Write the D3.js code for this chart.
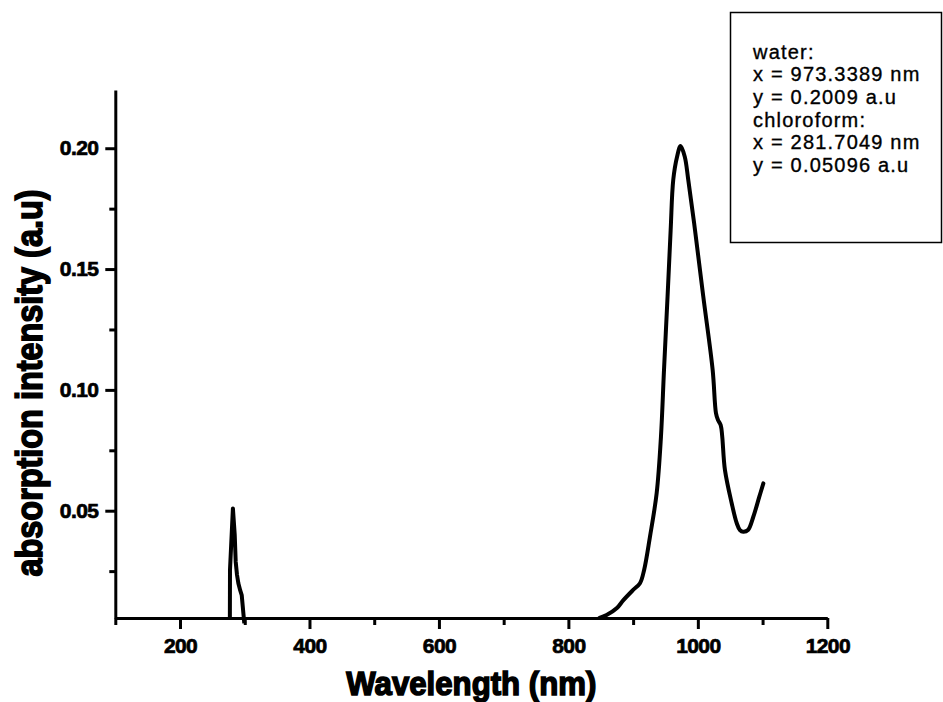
<!DOCTYPE html>
<html>
<head>
<meta charset="utf-8">
<script src="https://cdn.jsdelivr.net/npm/d3@7"></script>
<style>
  html, body { margin: 0; padding: 0; background: #fff; }
  svg { display: block; }
</style>
</head>
<body>
<svg id="chart" width="943" height="702"></svg>
<script>
// ---------------- data ----------------
const waterWavelength = [848, 859, 875, 885, 900, 910.6, 917, 926, 936.4, 943, 947.7, 953.2, 958, 962, 967.9, 973.34,
  979.8, 985.2, 995.6, 1008.4, 1022.9, 1028, 1031.1, 1035.3, 1041.9, 1052.3, 1060, 1065, 1070.2, 1077.5, 1085.7, 1095, 1101.2];
const waterAbsorbance = [0.0056, 0.0068, 0.0097, 0.0130, 0.0172, 0.0200, 0.0255, 0.0392, 0.0573, 0.0806, 0.1082, 0.1386, 0.1662, 0.1869, 0.1965, 0.2009,
  0.1965, 0.1869, 0.1662, 0.1386, 0.1082, 0.0904, 0.0875, 0.0854, 0.0668, 0.0531, 0.0449, 0.0420, 0.0413, 0.0420, 0.0475, 0.0558, 0.0613];

const chloroformWavelength = [277.0, 277.2, 281.7, 284.5, 286.0, 288.0, 290.1, 293.0, 295.3, 299.3];
const chloroformAbsorbance = [0.0050, 0.0255, 0.05096, 0.0400, 0.0289, 0.0235, 0.0200, 0.0170, 0.0151, 0.0034];

const xMajorTicks = [200, 400, 600, 800, 1000, 1200];
const xMinorTicks = [100, 300, 500, 700, 900, 1100];
const yMajorTicks = [0.05, 0.10, 0.15, 0.20];
const yMinorTicks = [0.025, 0.075, 0.125, 0.175];
const xDomain = [100, 1200];
const yDomain = [0.0056, 0.2241];

const xTitle = "Wavelength (nm)";
const yTitle = "absorption intensity (a.u)";
const legendLines = ["water:", "x = 973.3389 nm", "y = 0.2009 a.u", "chloroform:", "x = 281.7049 nm", "y = 0.05096 a.u"];

// ---------------- drawing ----------------
const svg = d3.select("#chart");
const x = d3.scaleLinear().domain(xDomain).range([115.3, 827.3]);
const y = d3.scaleLinear().domain(yDomain).range([618, 90]);

const tickFont = "'Liberation Sans', Arial, sans-serif";

function styleLabels(sel) {
  sel.attr("font-family", tickFont).attr("font-weight", "bold")
    .attr("font-size", 21).attr("letter-spacing", -0.6).attr("fill", "#000")
    .attr("stroke", "#000").attr("stroke-width", 0.7);
}

// X axis (major with labels)
const gx = svg.append("g").attr("transform", `translate(0,${y.range()[0]})`)
  .call(d3.axisBottom(x).tickValues(xMajorTicks).tickSize(11).tickSizeOuter(0).tickPadding(9).tickFormat(d3.format("d")));
gx.select(".domain").attr("stroke", "#000").attr("stroke-width", 3);
gx.selectAll(".tick line").attr("stroke", "#000").attr("stroke-width", 3);
styleLabels(gx.selectAll(".tick text"));
// X minor
const gxm = svg.append("g").attr("transform", `translate(0,${y.range()[0]})`)
  .call(d3.axisBottom(x).tickValues(xMinorTicks).tickSize(7).tickSizeOuter(0).tickFormat(""));
gxm.select(".domain").remove();
gxm.selectAll(".tick line").attr("stroke", "#000").attr("stroke-width", 3);

// Y axis (major with labels)
const gy = svg.append("g").attr("transform", `translate(${x.range()[0]},0)`)
  .call(d3.axisLeft(y).tickValues(yMajorTicks).tickSize(10).tickSizeOuter(0).tickPadding(7).tickFormat(d3.format(".2f")));
gy.select(".domain").attr("stroke", "#000").attr("stroke-width", 3);
gy.selectAll(".tick line").attr("stroke", "#000").attr("stroke-width", 3);
styleLabels(gy.selectAll(".tick text"));
// Y minor
const gym = svg.append("g").attr("transform", `translate(${x.range()[0]},0)`)
  .call(d3.axisLeft(y).tickValues(yMinorTicks).tickSize(6).tickSizeOuter(0).tickFormat(""));
gym.select(".domain").remove();
gym.selectAll(".tick line").attr("stroke", "#000").attr("stroke-width", 3);

// Curves
const waterData = waterWavelength.map((w, i) => [w, waterAbsorbance[i]]);
const chloroformData = chloroformWavelength.map((w, i) => [w, chloroformAbsorbance[i]]);

svg.append("path").datum(waterData)
  .attr("fill", "none").attr("stroke", "#000").attr("stroke-width", 4)
  .attr("stroke-linejoin", "round").attr("stroke-linecap", "round")
  .attr("d", d3.line().x(d => x(d[0])).y(d => y(d[1])).curve(d3.curveCatmullRom.alpha(0.5)));

svg.append("path").datum(chloroformData)
  .attr("fill", "none").attr("stroke", "#000").attr("stroke-width", 4)
  .attr("stroke-linejoin", "round").attr("stroke-linecap", "butt")
  .attr("d", d3.line().x(d => x(d[0])).y(d => y(d[1])));

// Axis titles
svg.append("text")
  .attr("transform", `translate(${(x.range()[0] + x.range()[1]) / 2},695) scale(1,1.3)`)
  .attr("text-anchor", "middle")
  .attr("font-family", tickFont).attr("font-weight", "bold").attr("font-size", 26)
  .attr("textLength", 250).attr("lengthAdjust", "spacingAndGlyphs")
  .attr("fill", "#000").attr("stroke", "#000").attr("stroke-width", 1.2)
  .text(xTitle);

svg.append("text")
  .attr("transform", `translate(42,383) rotate(-90) scale(1,1.35)`)
  .attr("text-anchor", "middle")
  .attr("font-family", tickFont).attr("font-weight", "bold").attr("font-size", 28)
  .attr("textLength", 387).attr("lengthAdjust", "spacingAndGlyphs")
  .attr("fill", "#000").attr("stroke", "#000").attr("stroke-width", 1.2)
  .text(yTitle);

// Legend / annotation box
const lg = svg.append("g");
lg.append("rect").attr("x", 730.5).attr("y", 12.5).attr("width", 211).attr("height", 230)
  .attr("fill", "#fff").attr("stroke", "#000").attr("stroke-width", 1.5);
lg.selectAll("text").data(legendLines).join("text")
  .attr("x", 753).attr("y", (d, i) => 58.5 + i * 22.7)
  .attr("font-family", tickFont).attr("font-size", 20)
  .attr("letter-spacing", 1.2)
  .attr("fill", "#000").attr("stroke", "#000").attr("stroke-width", 0.35)
  .text(d => d);
</script>
</body>
</html>
